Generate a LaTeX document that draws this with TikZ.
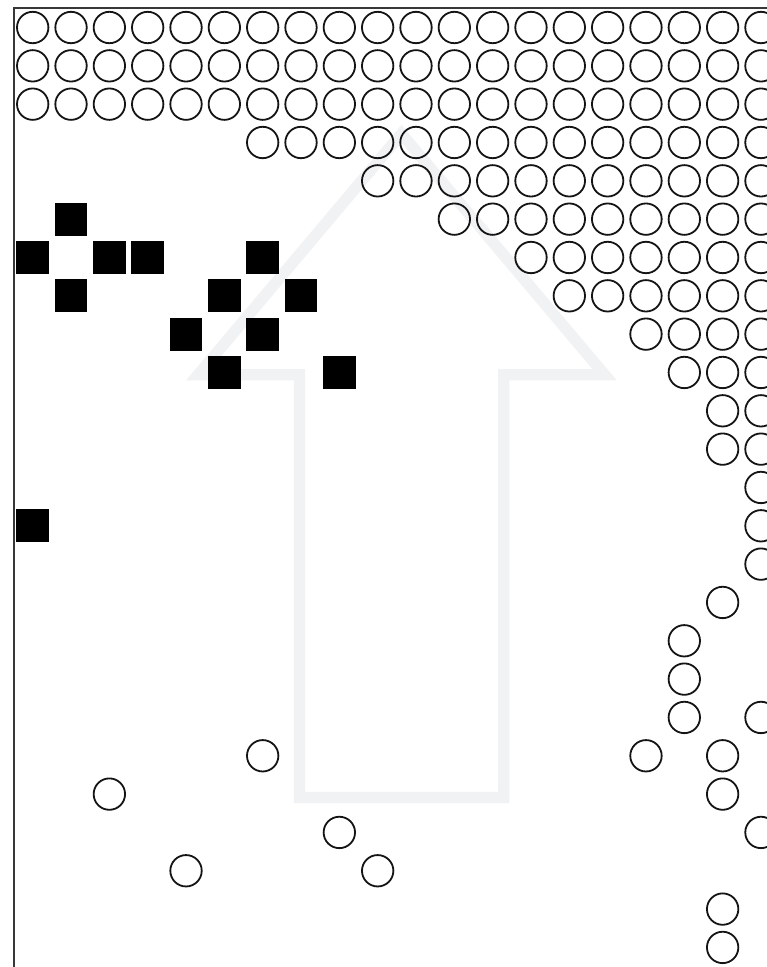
\documentclass[tikz,border=0pt]{standalone}
\definecolor{arrowgray}{RGB}{241,242,244}
\definecolor{framegray}{RGB}{55,55,55}
\tikzset{
  ring/.style={draw=black!92, line width=1.8pt, fill=none},
  blk/.style={fill=black, draw=none},
  arrowline/.style={draw=arrowgray, line width=11.3pt, line join=miter, miter limit=10},
  frameline/.style={draw=framegray, line width=2.2pt},
}
\begin{document}
\begin{tikzpicture}[x=1pt,y=-1pt]
\useasboundingbox (0,0) rectangle (767,967);
\clip (0,0) rectangle (767,967);
\fill[white] (0,0) rectangle (767,967);
% background arrow
\draw[arrowline] (299.5,797.5) -- (299.5,374.7) -- (198.2,374.7) -- (401.4,133.7)
  -- (604.6,374.7) -- (503.7,374.7) -- (503.7,797.5) -- cycle;
% frame
\draw[frameline] (14,967) -- (14,8.3) -- (767,8.3);
% circle rows
\foreach \r/\a in {0/0,1/0,2/0,3/6,4/9,5/11,6/13,7/14,8/16,9/17,10/18,11/18,12/19,13/19,14/19}{
  \foreach \c in {\a,...,19}{
    \draw[ring] ({32.7+38.33*\c},{27.5+38.33*\r}) circle[radius=15.7pt];
  }
}
% scattered circles
\foreach \c/\r in {18/15,17/16,17/17,17/18,19/18,6/19,16/19,18/19,2/20,18/20,8/21,19/21,4/22,9/22,18/23,18/24}{
  \draw[ring] ({32.7+38.33*\c},{27.5+38.33*\r}) circle[radius=15.7pt];
}
% black squares
\foreach \c/\r in {1/5,0/6,2/6,3/6,6/6,1/7,5/7,7/7,4/8,6/8,5/9,8/9,0/13}{
  \fill[blk] ({32.7+38.33*\c-16.4},{27.5+38.33*\r-16.4}) rectangle ++(32.8,32.8);
}
\end{tikzpicture}
\end{document}
